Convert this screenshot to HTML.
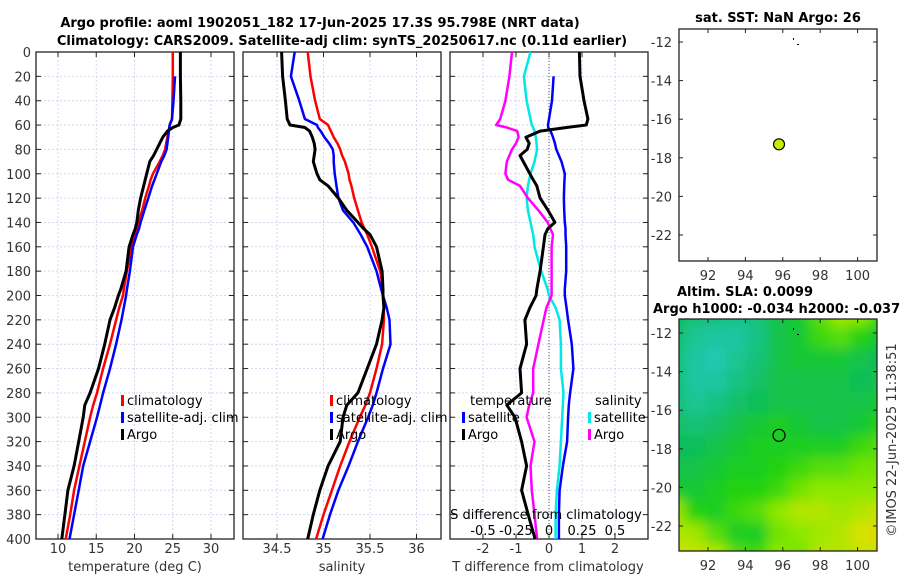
<!DOCTYPE html>
<html><head><meta charset="utf-8">
<style>
html,body{margin:0;padding:0;background:#fff;}
svg{display:block;font-family:"DejaVu Sans","Liberation Sans",sans-serif;}
.tk{font-size:13px;fill:#333;}
.tt{font-size:13px;font-weight:bold;fill:#000;}
.lg{font-size:13px;fill:#000;}
</style></head>
<body>
<svg id="c" width="900" height="580" viewBox="0 0 900 580" xmlns="http://www.w3.org/2000/svg">
<text class="tt" x="320" y="27" text-anchor="middle">Argo profile: aoml 1902051_182 17-Jun-2025 17.3S 95.798E (NRT data)</text>
<text class="tt" x="342" y="45" text-anchor="middle">Climatology: CARS2009. Satellite-adj clim: synTS_20250617.nc (0.11d earlier)</text>
<text class="tt" x="778" y="22" text-anchor="middle">sat. SST: NaN Argo: 26</text>
<text class="tt" x="745" y="296" text-anchor="middle">Altim. SLA: 0.0099</text>
<text class="tt" x="653" y="313">Argo h1000: -0.034 h2000: -0.037</text>
<text class="tk" transform="translate(896,440) rotate(-90)" text-anchor="middle">©IMOS 22-Jun-2025 11:38:51</text>
</svg>
<script>
// ---- data ----
const depths = [0,20,40,55,60,62,65,70,75,80,85,90,100,105,110,120,130,140,145,150,160,180,195,200,210,220,240,260,280,290,300,320,340,360,380,400];
const tempArgo = [26.0,26.0,26.05,26.05,25.8,25.0,24.3,23.7,23.3,22.9,22.5,22.0,21.6,21.4,21.2,20.8,20.5,20.3,20.1,19.8,19.3,18.9,18.2,17.9,17.4,16.8,16.1,15.3,14.2,13.5,13.3,12.7,12.1,11.3,10.9,10.5];
const tempClim = [25.0,25.0,24.95,24.9,24.6,24.55,24.45,24.3,24.15,24.0,23.7,23.3,22.4,22.1,21.9,21.4,21.0,20.5,20.3,20.1,19.6,19.0,18.6,18.5,18.0,17.6,16.8,15.9,15.1,14.6,14.2,13.5,12.8,12.1,11.6,11.0];
const tempSat = [null,25.3,25.1,24.9,24.6,24.55,24.5,24.4,24.3,24.2,23.9,23.5,22.9,22.6,22.3,21.8,21.3,20.8,20.6,20.3,19.8,19.4,19.0,18.9,18.6,18.3,17.6,16.8,15.9,15.5,15.1,14.2,13.3,12.7,12.1,11.5];
const salArgo = [34.55,34.56,34.59,34.61,34.64,34.8,34.85,34.88,34.9,34.91,34.9,34.89,34.93,34.96,35.05,35.16,35.25,35.37,35.43,35.5,35.57,35.63,35.64,35.64,35.65,35.63,35.57,35.47,35.37,35.25,35.21,35.18,35.05,34.96,34.89,34.83];
const salClim = [34.83,34.86,34.91,34.96,35.05,35.06,35.08,35.11,35.15,35.18,35.2,35.23,35.27,35.28,35.3,35.33,35.37,35.41,35.44,35.47,35.52,35.61,35.64,35.64,35.65,35.65,35.63,35.57,35.5,35.45,35.39,35.28,35.18,35.09,35.0,34.92];
const salSat = [34.69,34.65,34.74,34.8,34.93,34.94,34.97,35.01,35.06,35.1,35.11,35.11,35.12,35.13,35.14,35.16,35.21,35.32,35.36,35.4,35.47,35.57,35.62,35.64,35.68,35.71,35.72,35.64,35.57,35.53,35.48,35.37,35.27,35.16,35.07,34.99];
const dTempArgo = [0.92,0.94,1.06,1.18,1.13,0.53,-0.27,-0.70,-0.60,-0.66,-0.88,-0.78,-0.58,-0.48,-0.37,-0.27,-0.03,0.18,-0.03,-0.12,-0.17,-0.27,-0.37,-0.39,-0.58,-0.73,-0.68,-0.88,-0.83,-1.28,-1.03,-0.83,-0.68,-0.83,-0.63,-0.42];
const dTempSat = [null,0.14,0.09,0.0,-0.03,-0.02,0.05,0.12,0.18,0.22,0.3,0.38,0.48,0.47,0.46,0.45,0.46,0.48,0.5,0.5,0.52,0.52,0.48,0.48,0.53,0.58,0.69,0.74,0.64,0.6,0.58,0.55,0.42,0.32,0.30,0.30];
const dSalArgo = [-0.28,-0.30,-0.33,-0.37,-0.40,-0.32,-0.24,-0.23,-0.25,-0.28,-0.30,-0.32,-0.33,-0.31,-0.22,-0.16,-0.08,-0.01,0.01,0.03,0.02,0.02,0.02,0.02,-0.02,-0.04,-0.08,-0.12,-0.12,-0.15,-0.17,-0.11,-0.14,-0.13,-0.11,-0.09];
const dSalSat = [-0.14,-0.19,-0.17,-0.14,-0.13,-0.12,-0.11,-0.1,-0.095,-0.09,-0.1,-0.11,-0.14,-0.15,-0.16,-0.17,-0.16,-0.14,-0.13,-0.12,-0.11,-0.06,-0.01,0.0,0.05,0.08,0.09,0.09,0.11,0.105,0.10,0.09,0.08,0.06,0.05,0.05];
const depthTicks = [0,20,40,60,80,100,120,140,160,180,200,220,240,260,280,300,320,340,360,380,400];
const tempTicks = [10,15,20,25,30];
const salTicks = [34.5,35,35.5,36];
const dTempTicks = [-2,-1,0,1,2];
const dSalTicks = [-0.5,-0.25,0,0.25,0.5];
const latTicks = [-12,-14,-16,-18,-20,-22];
const lonTicks = [92,94,96,98,100];
const argoLon = 95.798, argoLat = -17.3;
const slaGrid = [
[.30,.20,.20,.15,.20,.35,.40,.60,.75,.70,.50],
[.25,.10,.05,.05,.15,.35,.40,.55,.60,.50,.40],
[.20,.05,.00,.10,.20,.35,.40,.40,.40,.35,.30],
[.20,.05,.05,.15,.25,.35,.35,.35,.35,.30,.35],
[.20,.10,.15,.25,.30,.35,.35,.35,.35,.35,.40],
[.25,.20,.25,.35,.40,.45,.40,.35,.35,.40,.50],
[.30,.30,.35,.40,.45,.45,.45,.45,.45,.55,.60],
[.35,.35,.40,.45,.45,.50,.55,.60,.60,.65,.65],
[.40,.40,.45,.50,.50,.55,.65,.70,.70,.70,.70],
[.75,.50,.45,.55,.60,.70,.80,.80,.75,.80,.85],
[.80,.75,.60,.45,.45,.65,.70,.75,.80,.90,.95],
[.85,.85,.80,.60,.55,.70,.65,.80,.80,.85,.85]];

// ---- helpers ----
const svg = document.getElementById('c');
const NS = 'http://www.w3.org/2000/svg';
function mk(tag, attrs, parent){const e=document.createElementNS(NS,tag);for(const k in attrs)e.setAttribute(k,attrs[k]);(parent||svg).appendChild(e);return e;}
function txt(s,x,y,cls,anchor){const t=mk('text',{x:x,y:y,'class':cls,'text-anchor':anchor||'middle'});t.textContent=s;return t;}
const Y0=52,Y1=539;
const yD = d => Y0 + d*(Y1-Y0)/400;
const GRID = '#d4d6ee';

function panel(x0,x1,name,xs,ticks,fmt,showY){
  const g=mk('g',{});
  
  
  depthTicks.forEach(d=>{ if(d>0&&d<400) mk('line',{x1:x0,x2:x1,y1:yD(d),y2:yD(d),stroke:GRID,'stroke-width':1,'stroke-dasharray':'2,2'},g);});
  ticks.forEach(v=>{ mk('line',{x1:xs(v),x2:xs(v),y1:Y0,y2:Y1,stroke:GRID,'stroke-width':1,'stroke-dasharray':'2,2'},g);
    mk('line',{x1:xs(v),x2:xs(v),y1:Y1,y2:Y1-5,stroke:'#222'},g); mk('line',{x1:xs(v),x2:xs(v),y1:Y0,y2:Y0+5,stroke:'#222'},g);
    const t=txt(fmt(v),xs(v),553,'tk');   });
  depthTicks.forEach(d=>{ mk('line',{x1:x0,x2:x0+5,y1:yD(d),y2:yD(d),stroke:'#222'},g); mk('line',{x1:x1,x2:x1-5,y1:yD(d),y2:yD(d),stroke:'#222'},g);
    if(showY){const t=txt(String(d),31,yD(d)+5,'tk','end');  } });
  mk('rect',{x:x0,y:Y0,width:x1-x0,height:Y1-Y0,fill:'none',stroke:'#222','stroke-width':1.3},g);
  return g;
}
function line(vals,xs,color,w,name){
  let d='';vals.forEach((v,i)=>{ if(v===null) return; d+=(d?'L':'M')+xs(v).toFixed(1)+','+yD(depths[i]).toFixed(1);});
  const p=mk('path',{d:d,fill:'none',stroke:color,'stroke-width':w,'stroke-linejoin':'round'});
  
  
}
function legend(x,y,color,label){ mk('rect',{x:x,y:y-10,width:3,height:11,fill:color}); const t=txt(label,x+6,y,'lg','start');   }

// Panel 1 temperature
const xT = v => 58 + (v-10)*7.65;
panel(36,234,'temperature-panel',xT,tempTicks,String,true);
line(tempClim,xT,'#ff0000',2.5,'temp-climatology-line');
line(tempSat,xT,'#0000ff',2.5,'temp-satellite-line');
line(tempArgo,xT,'#000',3,'temp-argo-line');
legend(121,405,'#f00','climatology'); legend(121,422,'#00f','satellite-adj. clim'); legend(121,439,'#000','Argo');
let t=txt('temperature (deg C)',135,571,'tk');  

// Panel 2 salinity
const xS = v => 277 + (v-34.5)*93;
panel(243,441,'salinity-panel',xS,salTicks,String,false);
line(salClim,xS,'#ff0000',2.5,'sal-climatology-line');
line(salSat,xS,'#0000ff',2.5,'sal-satellite-line');
line(salArgo,xS,'#000',3,'sal-argo-line');
legend(330,405,'#f00','climatology'); legend(330,422,'#00f','satellite-adj. clim'); legend(330,439,'#000','Argo');
t=txt('salinity',342,571,'tk');  

// Panel 3 differences
const xDT = v => 549 + v*33;
const xDS = v => 549 + v*132;
panel(450,648,'difference-panel',xDT,dTempTicks,String,false);
mk('line',{x1:549,x2:549,y1:Y0,y2:Y1,stroke:'#555','stroke-width':1,'stroke-dasharray':'1,2'});
line(dSalSat,xDS,'#00e8e8',2.5,'sal-diff-satellite-line');
line(dSalArgo,xDS,'#ff00ff',2.5,'sal-diff-argo-line');
line(dTempSat,xDT,'#0000ff',2.5,'temp-diff-satellite-line');
line(dTempArgo,xDT,'#000',3,'temp-diff-argo-line');
t=txt('temperature',470,405,'lg','start');  
t=txt('salinity',595,405,'lg','start');  
legend(462,422,'#00f','satellite'); legend(462,439,'#000','Argo');
legend(588,422,'#00e8e8','satellite'); legend(588,439,'#f0f','Argo');
t=txt('S difference from climatology',546,519,'lg');  
dSalTicks.forEach(v=>{ const s=txt(String(v),xDS(v),535,'lg');   });
t=txt('T difference from climatology',548,571,'tk');  

// Maps
const MX0=679,MX1=877;
const xLon = v => 708 + (v-92)*18.7;
function map(y0,y1,yLat12,name){
  const g=mk('g',{});
  
  
  const yLat = v => yLat12 + (-12 - v)*19.3;
  latTicks.forEach(v=>{ mk('line',{x1:MX0,x2:MX0+4,y1:yLat(v),y2:yLat(v),stroke:'#222'},g); mk('line',{x1:MX1,x2:MX1-4,y1:yLat(v),y2:yLat(v),stroke:'#222'},g);
    const s=txt(String(v),672,yLat(v)+5,'tk','end');   });
  lonTicks.forEach(v=>{ mk('line',{x1:xLon(v),x2:xLon(v),y1:y1,y2:y1-4,stroke:'#222'},g); mk('line',{x1:xLon(v),x2:xLon(v),y1:y0,y2:y0+4,stroke:'#222'},g);
    const s=txt(String(v),xLon(v),y1+19,'tk');   });
  return {g,yLat};
}
// map 1
const m1=map(29,261,42,'sst-map');
mk('rect',{x:MX0,y:29,width:MX1-MX0,height:232,fill:'none',stroke:'#222','stroke-width':1.3});
mk('rect',{x:793,y:38,width:1,height:2,fill:'#000'}); mk('rect',{x:797,y:44,width:2,height:1,fill:'#000'});
const dot=mk('circle',{cx:xLon(argoLon),cy:m1.yLat(argoLat),r:5.5,fill:'#c0f000',stroke:'#000','stroke-width':1.2});



// map 2 heatmap
function cmap(v){
  const stops=[[0,[32,200,176]],[0.3,[16,190,90]],[0.5,[32,210,16]],[0.7,[140,232,0]],[0.9,[216,226,0]],[1,[232,200,0]]];
  for(let i=1;i<stops.length;i++){ if(v<=stops[i][0]){const a=stops[i-1],b=stops[i],f=(v-a[0])/(b[0]-a[0]);return 'rgb('+a[1].map((c,k)=>Math.round(c+(b[1][k]-c)*f)).join(',')+')';}}
  return 'rgb(232,200,0)';
}
mk('defs',{}).innerHTML='<clipPath id="mc"><rect x="679" y="319" width="198" height="232"/></clipPath><filter id="bl" filterUnits="userSpaceOnUse" x="640" y="280" width="280" height="310"><feGaussianBlur stdDeviation="6"/></filter>';
const hm=mk('g',{'clip-path':'url(#mc)'});


const hb=mk('g',{filter:'url(#bl)'},hm);
const rows=slaGrid.length, cols=slaGrid[0].length, cw=(MX1-MX0+30)/cols, ch=(232+30)/rows;
slaGrid.forEach((r,i)=>r.forEach((v,j)=>{
  const c=mk('rect',{x:MX0-15+j*cw,y:304+i*ch,width:cw+1,height:ch+1,fill:cmap(v)},hb);
  
  
}));
const m2=map(319,551,333,'sla-map');
mk('rect',{x:MX0,y:319,width:MX1-MX0,height:232,fill:'none',stroke:'#222','stroke-width':1.3});
mk('rect',{x:793,y:328,width:1,height:2,fill:'#000'}); mk('rect',{x:797,y:334,width:2,height:1,fill:'#000'});
const dot2=mk('circle',{cx:xLon(argoLon),cy:m2.yLat(argoLat),r:6,fill:'none',stroke:'#000','stroke-width':1.2});


</script>
</body></html>
